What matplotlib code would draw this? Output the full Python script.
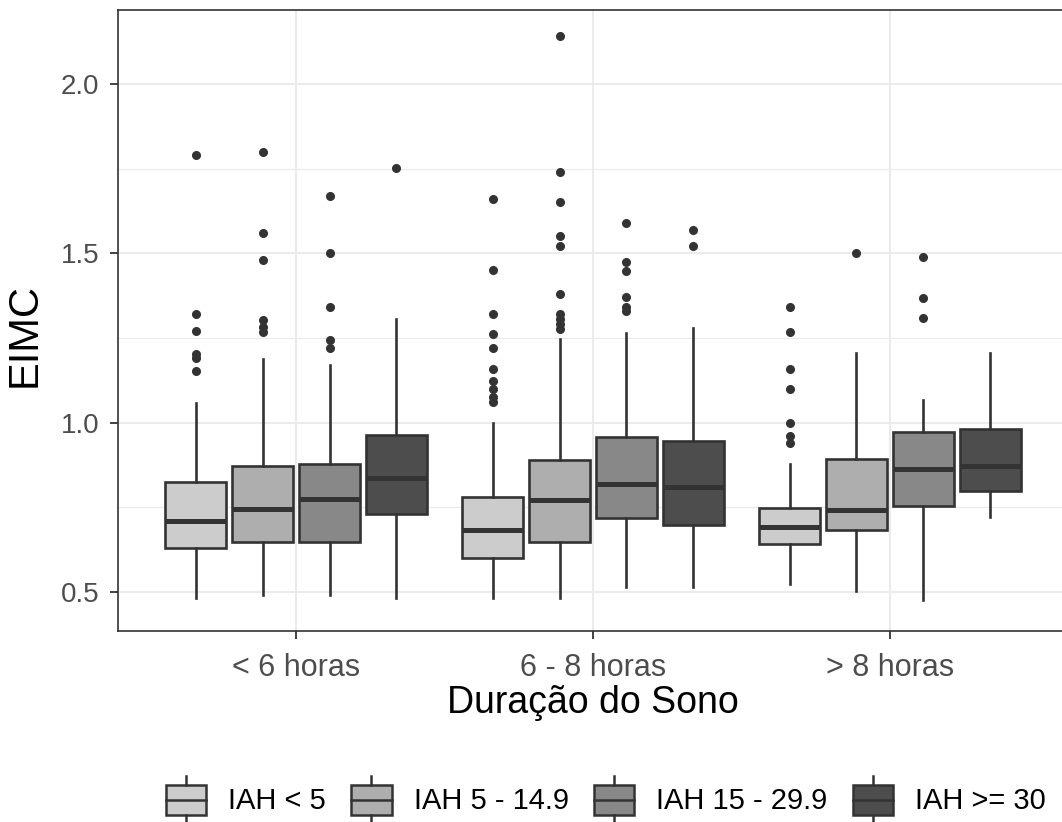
import numpy as np
import matplotlib
matplotlib.use('Agg')
import matplotlib.pyplot as plt
from matplotlib.legend_handler import HandlerBase
from matplotlib.patches import Rectangle, Patch
from matplotlib.lines import Line2D
from matplotlib.ticker import MultipleLocator

plt.rcParams['font.family'] = ['Liberation Sans', 'DejaVu Sans']

categories = ['< 6 horas', '6 - 8 horas', '> 8 horas']
iah_levels = ['IAH < 5', 'IAH 5 - 14.9', 'IAH 15 - 29.9', 'IAH >= 30']
fills = ['#CCCCCC', '#AEAEAE', '#888888', '#4D4D4D']

# box stats, rows = sleep duration, cols = IAH level
whislo = [[0.483, 0.492, 0.492, 0.483],
          [0.483, 0.483, 0.514, 0.514],
          [0.523, 0.504, 0.476, 0.722]]
q1 = [[0.629, 0.649, 0.649, 0.729],
      [0.601, 0.649, 0.720, 0.698],
      [0.642, 0.683, 0.753, 0.799]]
med = [[0.711, 0.746, 0.776, 0.837],
       [0.682, 0.773, 0.820, 0.811],
       [0.692, 0.742, 0.863, 0.871]]
q3 = [[0.826, 0.873, 0.877, 0.963],
      [0.780, 0.889, 0.958, 0.945],
      [0.749, 0.893, 0.972, 0.980]]
whishi = [[1.058, 1.188, 1.169, 1.307],
          [0.998, 1.248, 1.266, 1.280],
          [0.877, 1.207, 1.066, 1.207]]
fliers = [
    [[1.790, 1.322, 1.270, 1.202, 1.190, 1.151],
     [1.799, 1.561, 1.481, 1.302, 1.281, 1.269],
     [1.670, 1.500, 1.341, 1.245, 1.220],
     [1.751]],
    [[1.660, 1.452, 1.322, 1.261, 1.220, 1.159, 1.124, 1.100, 1.076, 1.060],
     [2.140, 1.741, 1.651, 1.552, 1.520, 1.381, 1.322, 1.305, 1.290, 1.277],
     [1.590, 1.473, 1.449, 1.372, 1.341, 1.329],
     [1.570, 1.520]],
    [[1.341, 1.269, 1.159, 1.100, 1.000, 0.961, 0.940],
     [1.500],
     [1.489, 1.369, 1.310],
     []],
]

edge = '#333333'
dodge = 0.9 / 4
box_w = 0.205


class BoxKeyHandler(HandlerBase):
    def create_artists(self, legend, orig_handle, xdescent, ydescent,
                       width, height, fontsize, trans):
        x0, y0 = -xdescent, -ydescent
        xc = x0 + width / 2
        bw = width * 0.92
        rect = Rectangle((xc - bw / 2, y0 + 0.19 * height), bw, 0.62 * height,
                         facecolor=orig_handle.get_facecolor(), edgecolor=edge,
                         linewidth=1.8, transform=trans)
        mline = Line2D([xc - bw / 2, xc + bw / 2], [y0 + height / 2] * 2,
                       color=edge, linewidth=1.8, transform=trans)
        wtop = Line2D([xc, xc], [y0 + 0.81 * height, y0 + height],
                      color=edge, linewidth=1.8, transform=trans)
        wbot = Line2D([xc, xc], [y0, y0 + 0.19 * height],
                      color=edge, linewidth=1.8, transform=trans)
        return [rect, mline, wtop, wbot]


fig = plt.figure(figsize=(10.62, 8.22), dpi=100)
ax = fig.add_axes([118 / 1062, 1 - 631 / 822, 950 / 1062, 621 / 822])

for i, cat in enumerate(categories):
    for j, lev in enumerate(iah_levels):
        pos = i + 1 + (j - 1.5) * dodge
        stats = [{'med': med[i][j], 'q1': q1[i][j], 'q3': q3[i][j],
                  'whislo': whislo[i][j], 'whishi': whishi[i][j],
                  'fliers': fliers[i][j]}]
        ax.bxp(stats, positions=[pos], widths=box_w, patch_artist=True,
               showcaps=False, manage_ticks=False,
               boxprops=dict(facecolor=fills[j], edgecolor=edge, linewidth=1.9),
               medianprops=dict(color=edge, linewidth=3.6, solid_capstyle='butt'),
               whiskerprops=dict(color=edge, linewidth=1.9),
               flierprops=dict(marker='o', markerfacecolor=edge,
                               markeredgecolor=edge, markersize=5.5))

ax.set_xlim(0.4, 3.6)
ax.set_ylim(0.385, 2.218)
ax.set_xticks([1, 2, 3])
ax.set_xticklabels(categories)
ax.yaxis.set_major_locator(MultipleLocator(0.5))
ax.yaxis.set_minor_locator(MultipleLocator(0.25))
ax.yaxis.set_major_formatter(matplotlib.ticker.FormatStrFormatter('%.1f'))

ax.set_axisbelow(True)
ax.grid(which='major', color='#EBEBEB', linewidth=1.5)
ax.grid(which='minor', axis='y', color='#EBEBEB', linewidth=0.9)
for s in ax.spines.values():
    s.set_color(edge)
    s.set_linewidth(1.2)

ax.tick_params(axis='both', which='major', color=edge, length=6, width=1.3,
               labelcolor='#4D4D4D')
ax.tick_params(axis='y', which='minor', length=0)
ax.tick_params(axis='y', labelsize=20, pad=7.5)
ax.tick_params(axis='x', labelsize=22, pad=10)

ax.set_xlabel('Duração do Sono', fontsize=27, labelpad=1)
ax.set_ylabel('EIMC', fontsize=30)
ax.yaxis.set_label_coords(-0.077, 0.477)

handles = [Patch(facecolor=c, edgecolor=edge) for c in fills]
fig.legend(handles, iah_levels, loc='center', ncol=4,
           bbox_to_anchor=(605 / 1062, 1 - 800 / 822), frameon=False,
           fontsize=21, handler_map={Patch: BoxKeyHandler()},
           handlelength=1.5, handleheight=2.2, handletextpad=0.7,
           columnspacing=0.8, borderpad=0, borderaxespad=0)

fig.savefig('out.png', dpi=100)
